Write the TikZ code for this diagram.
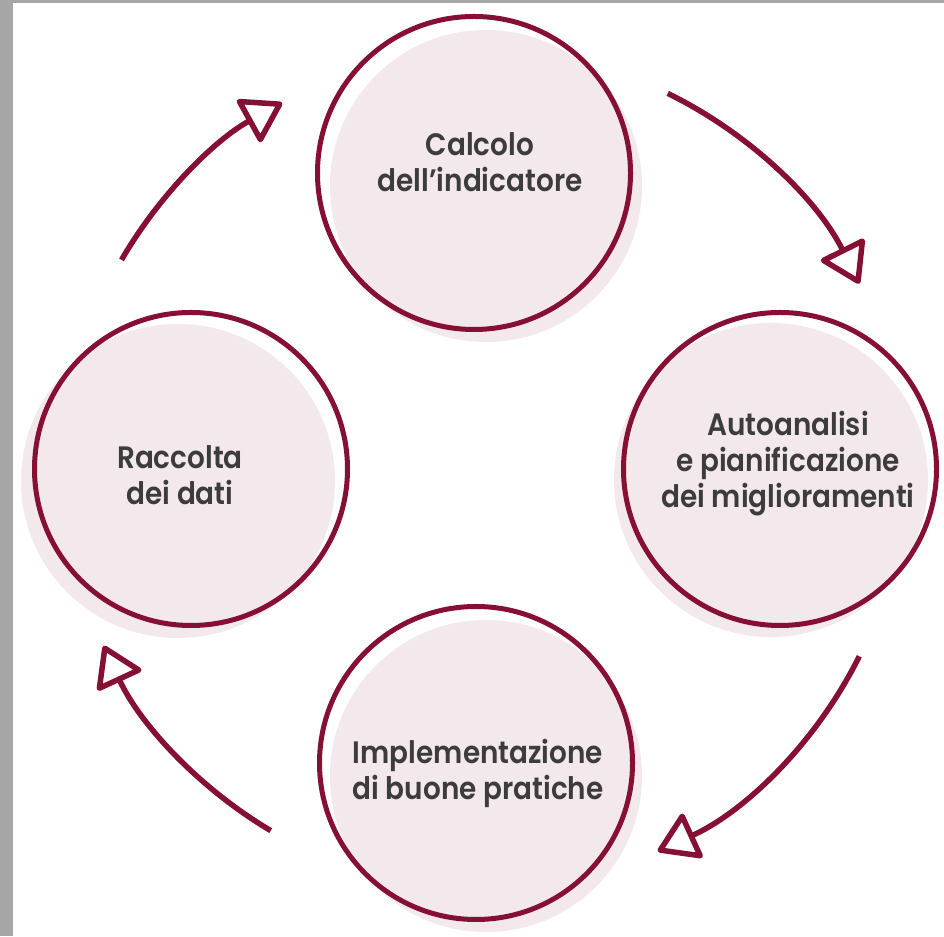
\documentclass[tikz,border=0pt]{standalone}
\usepackage{fontspec}
\newfontfamily\labfont{Poppins SemiBold}[FakeStretch=0.9]
\usetikzlibrary{arrows.meta,calc}
\definecolor{wine}{HTML}{861034}
\definecolor{blush}{HTML}{F3E8EC}
\definecolor{ink}{HTML}{3C3C3C}
\definecolor{edgegray}{HTML}{A6A6A6}
\begin{document}
\begin{tikzpicture}[x=1pt,y=1pt,
  halo/.style={circle, fill=blush, draw=none, inner sep=0pt, minimum size=#1},
  ring/.style={circle, draw=wine, line width=5pt, inner sep=0pt, minimum size=313pt},
  lab/.style={align=center, text=ink, inner sep=0pt, font=\labfont\fontsize{31}{36}\selectfont},
  flow/.style={draw=wine, line width=5.5pt, line cap=butt,
    -{Triangle[open, round, length=42pt, width=52pt]}}
]
\useasboundingbox (0,0) rectangle (944,936);
\fill[edgegray] (0,0) rectangle (944,936);
\fill[white] (13,0) rectangle (944,933);

% soft backing discs
\node[halo=312pt] (p1) at (486,750) {};
\node[halo=314pt] (p2) at (771,456) {};
\node[halo=312pt] (p3) at (486,160) {};
\node[halo=314pt] (p4) at (178,455) {};

% rings
\node[ring] (c1) at (474,763) {};
\node[ring] (c2) at (780,467) {};
\node[ring] (c3) at (476,173) {};
\node[ring] (c4) at (191,467) {};

% labels
\node[lab] (t1) at (480,774) {Calcolo\\dell’indicatore};
\node[lab] (t2) at (788,472) {Autoanalisi\\e pianificazione\\dei miglioramenti};
\node[lab] (t3) at (478,163) {Implementazione\\di buone pratiche};
\node[lab] (t4) at (180,461) {Raccolta\\dei dati};

% cycle arrows
\coordinate (O) at (484,466);
\coordinate (a1) at ($(O)+(149.9:419)$);
\coordinate (a2) at ($(O)+(64.0:419)$);
\coordinate (a3) at ($(O)+(-26.4:419)$);
\coordinate (a4) at ($(O)+(-120.6:419)$);
\draw[flow] (a1) arc[start angle=149.9, end angle=118.8, radius=419pt];
\draw[flow] (a2) arc[start angle=64.0, end angle=26.4, radius=419pt];
\draw[flow] (a3) arc[start angle=-26.4, end angle=-65.5, radius=419pt];
\draw[flow] (a4) arc[start angle=-120.6, end angle=-155.2, radius=419pt];
\end{tikzpicture}
\end{document}
